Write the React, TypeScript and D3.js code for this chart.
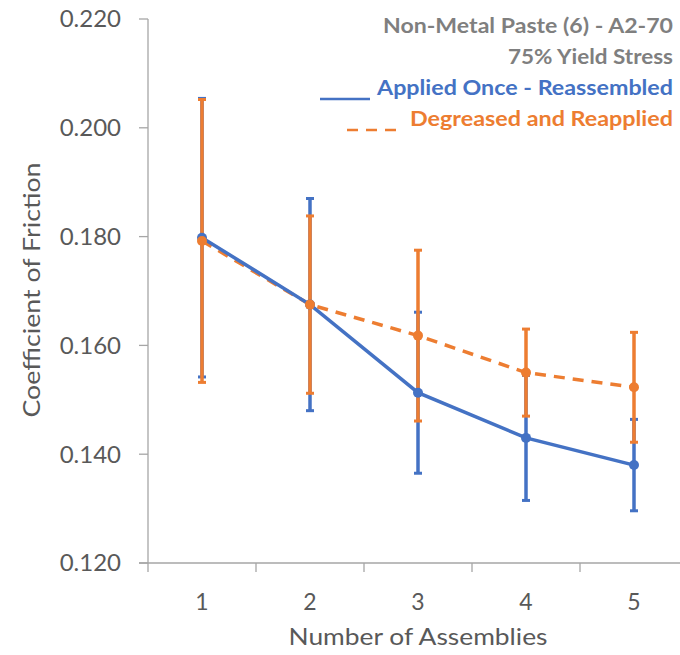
import React from "react";
import * as d3 from "d3";

const categories = [1, 2, 3, 4, 5];
const reassembled = [0.1798, 0.1675, 0.1513, 0.143, 0.138];
const reassembledErr = [0.0256, 0.0195, 0.0148, 0.0115, 0.0084];
const reapplied = [0.1792, 0.1675, 0.1618, 0.155, 0.1523];
const reappliedErr = [0.026, 0.0163, 0.0157, 0.008, 0.0101];
const yTicks = [0.12, 0.14, 0.16, 0.18, 0.2, 0.22];
const titleLines = ["Non-Metal Paste (6) - A2-70", "75% Yield Stress"];
const seriesNames = ["Applied Once - Reassembled", "Degreased and Reapplied"];

const W = 680;
const H = 655;
const FONT = "Lato, 'Open Sans', sans-serif";
const BLUE = "#4472C4";
const ORANGE = "#ED7D31";
const AXIS = "#a6a6a6";
const TEXT = "#595959";

export default function App() {
  const x = d3.scaleBand<number>().domain(categories).range([148, 688]);
  const y = d3.scaleLinear().domain([0.12, 0.22]).range([563, 19]);
  const cx = (c: number) => (x(c) as number) + x.bandwidth() / 2;

  const line = d3
    .line<number>()
    .x((_, i) => cx(categories[i]))
    .y((d) => y(d));

  const series = [
    { vals: reassembled, err: reassembledErr, color: BLUE },
    { vals: reapplied, err: reappliedErr, color: ORANGE },
  ];

  const errBars = (s: (typeof series)[0], key: string) =>
    s.vals.map((v, i) => {
      const xx = cx(categories[i]);
      const top = y(v + s.err[i]);
      const bot = y(v - s.err[i]);
      return (
        <g key={key + i} stroke={s.color} strokeWidth={3.5}>
          <line x1={xx} x2={xx} y1={top} y2={bot} />
          <line x1={xx - 4} x2={xx + 4} y1={top} y2={top} strokeWidth={3} />
          <line x1={xx - 4} x2={xx + 4} y1={bot} y2={bot} strokeWidth={3} />
        </g>
      );
    });

  return (
    <svg
      width={W}
      height={H}
      style={{ position: "absolute", left: 0, top: 0, background: "#fff" }}
      fontFamily={FONT}
    >
      {/* axes */}
      <line x1={148} x2={148} y1={19} y2={563} stroke={AXIS} strokeWidth={1.3} />
      <line x1={139} x2={688} y1={563} y2={563} stroke={AXIS} strokeWidth={1.3} />
      {yTicks.map((t) => (
        <g key={"yt" + t}>
          <line x1={139} x2={148} y1={y(t)} y2={y(t)} stroke={AXIS} strokeWidth={1.3} />
          <text x={121} y={y(t)} dy="0.35em" textAnchor="end" fontSize={24} fill={TEXT}>
            {d3.format(".3f")(t)}
          </text>
        </g>
      ))}
      {categories.map((c) => (
        <g key={"xt" + c}>
          <line x1={x(c) as number} x2={x(c) as number} y1={563} y2={572} stroke={AXIS} strokeWidth={1.3} />
          <text x={cx(c)} y={610} textAnchor="middle" fontSize={23} fill={TEXT}>
            {c}
          </text>
        </g>
      ))}
      <text x={418} y={645} textAnchor="middle" fontSize={24} fill={TEXT} textLength={259} lengthAdjust="spacingAndGlyphs">
        Number of Assemblies
      </text>
      <text
        transform="translate(40,290) rotate(-90)"
        textAnchor="middle"
        fontSize={24}
        fill={TEXT}
        textLength={255}
        lengthAdjust="spacingAndGlyphs"
      >
        Coefficient of Friction
      </text>

      {/* error bars */}
      {errBars(series[0], "eb")}
      {errBars(series[1], "eo")}

      {/* lines */}
      <path d={line(reapplied) || ""} fill="none" stroke={ORANGE} strokeWidth={3.5} strokeDasharray="11 8" />
      <path d={line(reassembled) || ""} fill="none" stroke={BLUE} strokeWidth={3.5} />

      {/* markers */}
      {series.map((s, si) =>
        s.vals.map((v, i) => (
          <circle key={"m" + si + i} cx={cx(categories[i])} cy={y(v)} r={5} fill={s.color} />
        ))
      )}

      {/* title / legend */}
      <g fontWeight="bold" fontSize={21} textAnchor="end">
        <text x={673} y={33} fill="#7f7f7f" textLength={290} lengthAdjust="spacingAndGlyphs">
          {titleLines[0]}
        </text>
        <text x={673} y={64} fill="#7f7f7f" textLength={165} lengthAdjust="spacingAndGlyphs">
          {titleLines[1]}
        </text>
        <text x={673} y={95} fill={BLUE} textLength={296} lengthAdjust="spacingAndGlyphs">
          {seriesNames[0]}
        </text>
        <text x={673} y={126} fill={ORANGE} textLength={263} lengthAdjust="spacingAndGlyphs">
          {seriesNames[1]}
        </text>
      </g>
      <line x1={320} x2={370} y1={99} y2={99} stroke={BLUE} strokeWidth={2.5} />
      <line x1={347} x2={397} y1={130} y2={130} stroke={ORANGE} strokeWidth={2.5} strokeDasharray="11 8" />
    </svg>
  );
}
